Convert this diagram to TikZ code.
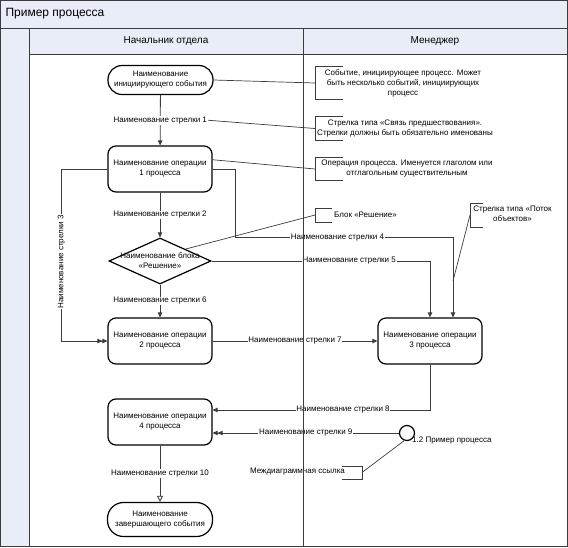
\documentclass[tikz,border=0pt]{standalone}
\usepackage{fontspec}
\setmainfont{Liberation Sans}
\usetikzlibrary{shapes.geometric,arrows.meta}
\definecolor{lanefill}{RGB}{233,237,248}
\definecolor{linegray}{RGB}{60,60,60}

\begin{document}
\begin{tikzpicture}[x=1pt,y=-1pt,font=\fontsize{8}{10}\selectfont,
	event/.style={draw,line width=1.2pt,rounded corners=14pt,minimum width=105pt,minimum height=29pt,align=center,inner sep=1pt},
	oper/.style={draw,line width=1.2pt,rounded corners=8pt,minimum width=104pt,minimum height=46pt,align=center},
	decision/.style={draw,line width=1.2pt,diamond,aspect=2.2,minimum width=102pt,minimum height=46pt,inner sep=0pt},
	offpage/.style={draw,line width=1.2pt,circle,minimum size=15pt,inner sep=0pt},
	lbl/.style={fill=white,inner sep=0.8pt},
	note/.style={align=center,inner sep=0pt},
	flow/.style={draw=linegray,line width=0.8pt,-{Triangle[length=5pt,width=4.5pt]}},
	flowtwo/.style={draw=linegray,line width=0.8pt,-{Triangle[length=5pt,width=4.5pt]Triangle[length=5pt,width=4.5pt]}},
	flowopen/.style={draw=linegray,line width=0.8pt,-{Triangle[open,length=6pt,width=6pt]}},
	link/.style={draw=linegray,line width=0.7pt},
	bracket/.style={draw=linegray,line width=0.8pt}]
	\useasboundingbox (0,0) rectangle (568,547);

	% pool and lanes
	\fill[lanefill] (1,1) rectangle (567,28);
	\fill[lanefill] (1,28) rectangle (29,546);
	\fill[lanefill] (29,28) rectangle (567,54);
	\draw[linegray,line width=0.8pt] (1,28) -- (567,28);
	\draw[linegray,line width=0.8pt] (29,54) -- (567,54);
	\draw[linegray,line width=0.8pt] (29,28) -- (29,546);
	\node[anchor=west,font=\fontsize{12}{14}\selectfont] (pool) at (2,14) {Пример процесса};
	\node[font=\fontsize{10}{12}\selectfont] (lane1) at (166,41) {Начальник отдела};
	\node[font=\fontsize{10}{12}\selectfont] (lane2) at (435,41) {Менеджер};

	% blocks
	\node[event] (start) at (160.5,80) {Наименование\\инициирующего события};
	\node[oper] (op1) at (160,169) {Наименование операции\\1 процесса};
	\node[decision] (dec) at (160,261) {};
	\node[align=center] (dect) at (dec) {Наименование блока\\«Решение»};
	\node[oper] (op2) at (160,341) {Наименование операции\\2 процесса};
	\node[oper] (op3) at (430,341) {Наименование операции\\3 процесса};
	\node[oper] (op4) at (160,422) {Наименование операции\\4 процесса};
	\node[event,minimum height=34pt,rounded corners=16pt] (stop) at (160,519.5) {Наименование\\завершающего события};
	\node[offpage] (off) at (407,433) {};
	\node[anchor=west,inner sep=0pt] (offl) at (412,441) {1.2 Пример процесса};

	% arrows
	\coordinate (k4) at (235,237.7);
	\coordinate (f4) at (453,281);
	\draw[flow] (start) -- node[lbl] (l1) {Наименование стрелки 1} (op1);
	\draw[flow] (op1) -- node[lbl] (l2) {Наименование стрелки 2} (dec);
	\draw[flowtwo] (op1.west) -- ++(-46,0) |- node[lbl,rotate=90,pos=0.27] (l3) {Наименование стрелки 3} (op2.west);
	\draw[flow] (op1.east) -| (k4) -- node[lbl,pos=0.47] (l4) {Наименование стрелки 4} (k4 -| f4) -- (f4 |- op3.north);
	\draw[flow] (dec.east) -| node[lbl,pos=0.315] (l5) {Наименование стрелки 5} (op3.north);
	\draw[flow] (dec) -- node[lbl] (l6) {Наименование стрелки 6} (op2);
	\draw[flow] (op2) -- node[lbl] (l7) {Наименование стрелки 7} (op3);
	\draw[flow] (op3.south) |- node[lbl,pos=0.7] (l8) {Наименование стрелки 8} ([yshift=12pt]op4.east);
	\draw[flowtwo] (off.west) -- node[lbl] (l9) {Наименование стрелки 9} (off.west -| op4.east);
	\draw[flowopen] (op4) -- node[lbl] (l10) {Наименование стрелки 10} (stop);

	% notes
	\node[note] (n1) at (403,83) {Событие, инициирующее процесс. Может\\быть несколько событий, инициирующих\\процесс};
	\node[note] (n2) at (405,128.5) {Стрелка типа «Связь предшествования».\\Стрелки должны быть обязательно именованы};
	\node[note] (n3) at (407,169) {Операция процесса. Именуется глаголом или\\отглагольным существительным};
	\node[note,anchor=west] (n4) at (334,215) {Блок «Решение»};
	\node[note] (n5) at (512.5,214) {Стрелка типа «Поток\\объектов»};
	\node[note] (n6) at (297.5,472) {Междиаграммная ссылка};
	\coordinate (b1) at (315,83);
	\coordinate (b2) at (315,128.5);
	\coordinate (b3) at (315,169);
	\coordinate (b4) at (315,215);
	\coordinate (b5) at (470,215);
	\coordinate (b6) at (362,472.5);
	\foreach \x/\ya/\yb/\tick in {315/66.7/99.3/343,315/116.7/140/343,315/157.7/180/343,315/208/222/332,470/203/227/483,362/466/479/342}
		\draw[bracket] (\tick,\ya) -- (\x,\ya) -- (\x,\yb) -- (\tick,\yb);
	\foreach \from/\to in {start.east/b1,l1.east/b2,op1.10/b3,dec.25/b4,f4/b5,off.250/b6}
		\draw[link] (\from) -- (\to);

	% lane divider and frame
	\draw[linegray,line width=0.8pt] (303,28) -- (303,546);
	\draw[line width=1.2pt,draw=linegray] (0.6,0.6) rectangle (567.4,546.4);
\end{tikzpicture}
\end{document}
